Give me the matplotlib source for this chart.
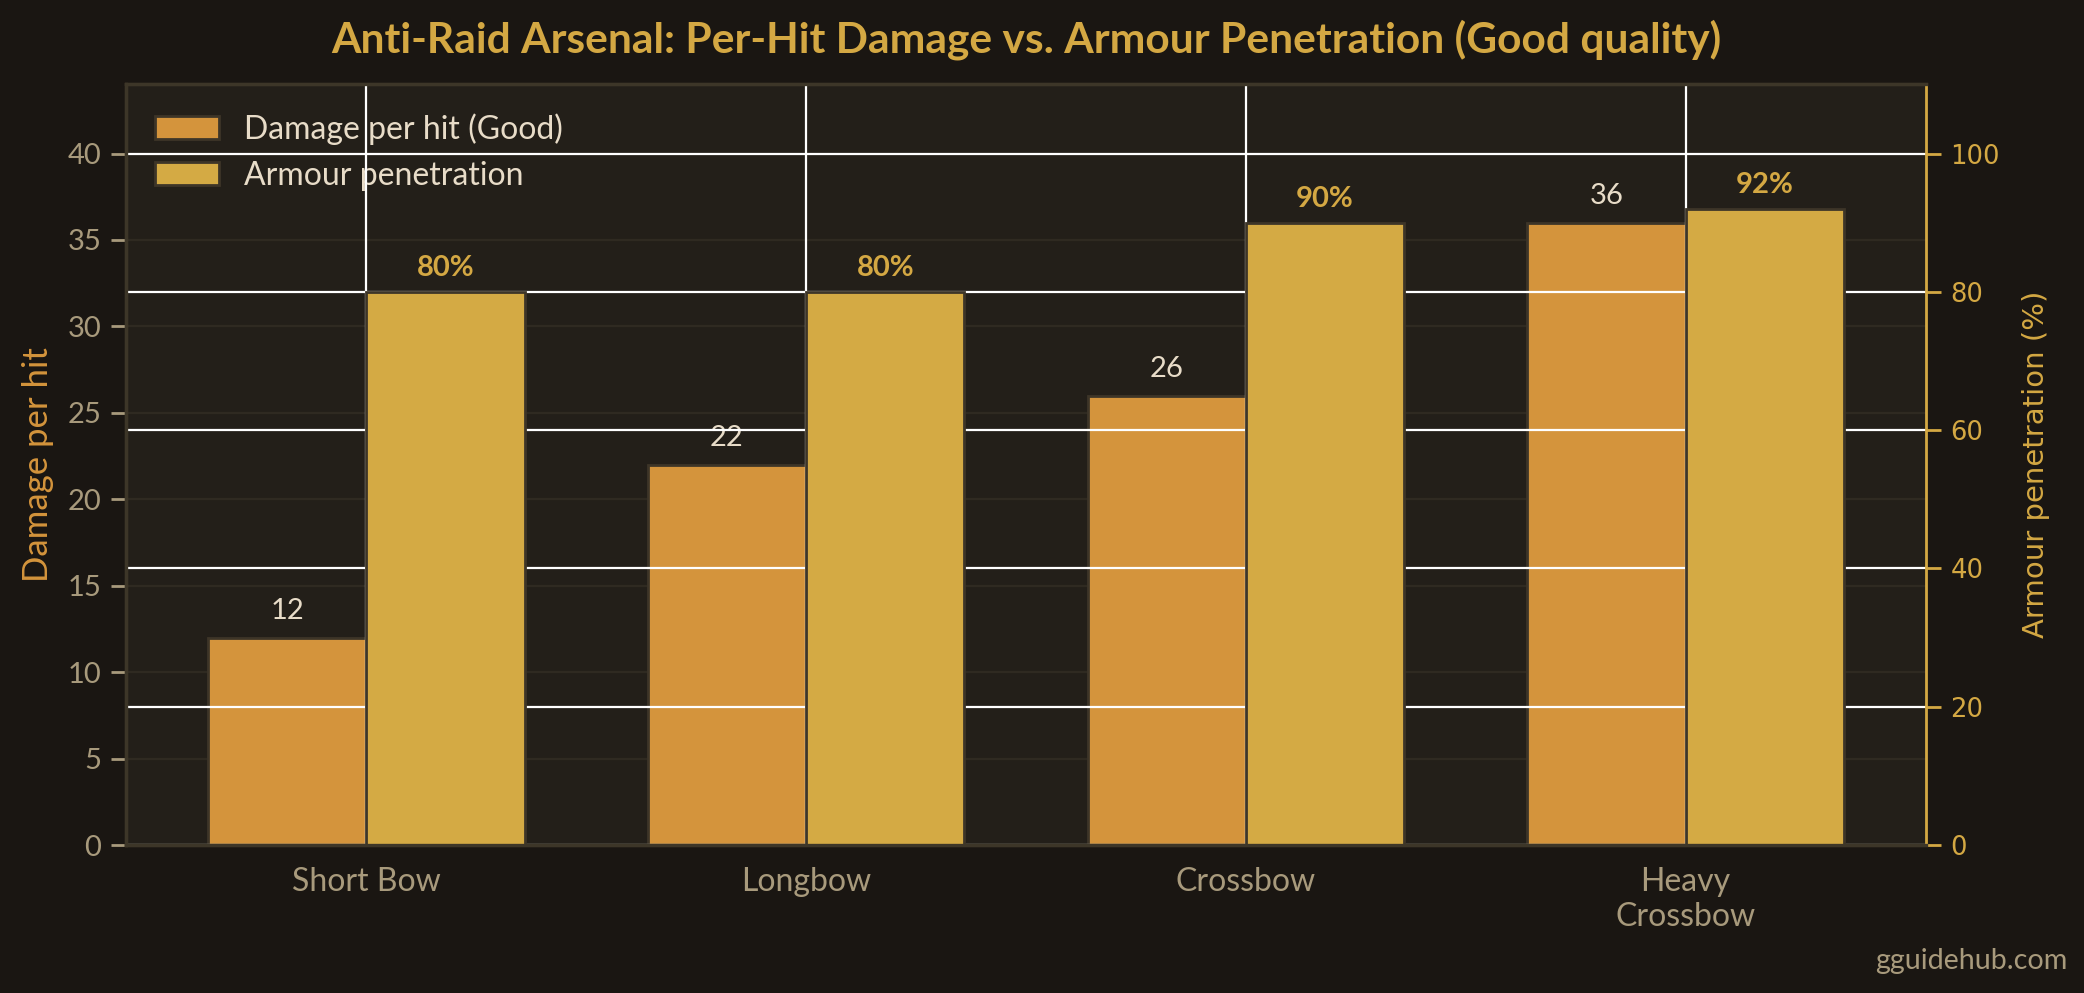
import matplotlib
matplotlib.use("Agg")
import matplotlib.pyplot as plt
import numpy as np
from matplotlib.patches import Patch

categories = ["Short Bow", "Longbow", "Crossbow", "Heavy\nCrossbow"]
damage = [12, 22, 26, 36]
penetration = [80, 80, 90, 92]

BG = "#1a1612"
AX_BG = "#231f19"
ORANGE = "#d4943c"
GOLD = "#d4aa44"
GOLD_TXT = "#d4a843"
TAN = "#a89a7c"
CREAM = "#e8dcc8"
EDGE = "#3d3528"
SPINE = "#3d3628"

plt.rcParams['font.family'] = ['Lato', 'DejaVu Sans']

fig = plt.figure(figsize=(10.42, 4.965), dpi=200, facecolor=BG)
ax = fig.add_axes([0.0606, 0.149, 0.924 - 0.0606, 0.915 - 0.149])
ax.set_facecolor(AX_BG)
ax2 = ax.twinx()
ax2.patch.set_alpha(0)

x = np.arange(len(categories))
w = 0.36
ax.bar(x - w / 2, damage, w, color=ORANGE, edgecolor=EDGE, linewidth=1.0, zorder=2)
ax2.bar(x + w / 2, penetration, w, color=GOLD, edgecolor=EDGE, linewidth=1.0, zorder=2)

ax.set_ylim(0, 44)
ax2.set_ylim(0, 110)
ax.set_yticks(range(0, 41, 5))
ax2.set_yticks(range(0, 101, 20))
ax.set_xticks(x)
ax.set_xticklabels(categories)

# grids
ax.set_axisbelow(True)
ax.grid(axis='y', color="#2f2a21", linewidth=0.8)
ax.grid(axis='x', visible=False)
ax2.xaxis.set_visible(True)
ax2.set_axisbelow(True)
ax2.grid(True, color="white", linewidth=0.8)
ax2.tick_params(axis='x', which='both', bottom=False, top=False,
                labelbottom=False, labeltop=False)

# spines
for a in (ax, ax2):
    for s in ['top', 'left', 'bottom']:
        a.spines[s].set_color(SPINE)
        a.spines[s].set_linewidth(1.2)
ax.spines['right'].set_visible(False)
ax2.spines['right'].set_color(GOLD_TXT)
ax2.spines['right'].set_linewidth(1.0)

ax.tick_params(axis='y', colors=TAN, labelsize=10.5, length=5.5, width=1.0)
ax.tick_params(axis='x', colors=TAN, labelsize=11.5, length=0, pad=8)
ax2.tick_params(axis='y', colors=GOLD_TXT, labelsize=9.3, length=5.5, width=1.0)
for lab in ax2.get_yticklabels():
    lab.set_family('DejaVu Sans')

ax.set_ylabel("Damage per hit", color=ORANGE, fontsize=12.5, labelpad=5)
ax2.set_ylabel("Armour penetration (%)", color=GOLD_TXT, fontsize=10.5,
               family='DejaVu Sans', labelpad=8)

for xi, v in zip(x, damage):
    ax.annotate(f"{v}", (xi - w / 2, v), xytext=(0, 5), textcoords='offset points',
                ha='center', va='bottom', color=CREAM, fontsize=10.5)
for xi, v in zip(x, penetration):
    ax2.annotate(f"{v}%", (xi + w / 2, v), xytext=(0, 4), textcoords='offset points',
                 ha='center', va='bottom', color=GOLD_TXT, fontsize=10.5, fontweight='bold')

handles = [Patch(facecolor=ORANGE, edgecolor=EDGE, linewidth=1.0, label="Damage per hit (Good)"),
           Patch(facecolor=GOLD, edgecolor=EDGE, linewidth=1.0, label="Armour penetration")]
ax.legend(handles=handles, loc='upper left', frameon=False, fontsize=11.5,
          labelcolor=CREAM, borderaxespad=0.5, handlelength=2.0, labelspacing=0.5)

fig.text(0.4923, 0.96, "Anti-Raid Arsenal: Per-Hit Damage vs. Armour Penetration (Good quality)",
         ha='center', va='center', color=GOLD_TXT, fontsize=15.3, fontweight='bold')
fig.text(0.992, 0.032, "gguidehub.com", ha='right', va='center', color=TAN, fontsize=10.3)

fig.savefig("out.png", dpi=200, facecolor=BG)
